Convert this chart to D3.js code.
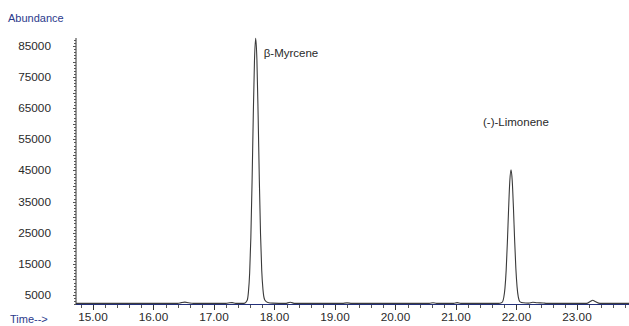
<!DOCTYPE html>
<html>
<head>
<meta charset="utf-8">
<script src="https://cdn.jsdelivr.net/npm/d3@7"></script>
<style>
  html, body { margin: 0; padding: 0; background: #fff; }
  svg { display: block; }
  text { font-family: "Liberation Sans", Arial, sans-serif; }
</style>
</head>
<body>
<svg id="chart" width="629" height="326"></svg>
<script>
// Total ion chromatogram: retention time (min) vs abundance
const times = [
  14.72, 15.50, 16.40, 16.46, 16.52, 16.58, 16.66, 17.20, 17.26, 17.30, 17.36,
  17.50, 17.55, 17.57, 17.59, 17.61, 17.63, 17.65, 17.67, 17.69, 17.71, 17.73,
  17.75, 17.77, 17.79, 17.81, 17.84, 17.89, 17.97, 18.18, 18.26, 18.34, 19.12,
  19.20, 19.28, 20.56, 20.62, 20.68, 20.96, 21.02, 21.08, 21.70, 21.76, 21.79,
  21.81, 21.83, 21.85, 21.87, 21.89, 21.91, 21.93, 21.95, 21.97, 21.99, 22.01,
  22.03, 22.06, 22.11, 22.20, 22.27, 22.34, 22.44, 22.50, 22.58, 23.16, 23.22,
  23.26, 23.30, 23.38, 23.86
];
const abundance = [
  2300, 2300, 2300, 2550, 2700, 2500, 2300, 2300, 2500, 2550, 2300,
  2300, 3300, 6000, 12000, 23500, 41300, 62500, 80400, 87500, 80600, 63000,
  42000, 24500, 12800, 6800, 3400, 2600, 2400, 2300, 2650, 2300, 2300,
  2480, 2300, 2300, 2520, 2300, 2300, 2560, 2300, 2300, 2600, 4200,
  7200, 13000, 22000, 32600, 41600, 45200, 41700, 33000, 22500, 13500, 7600,
  4400, 2800, 2500, 2400, 2650, 2500, 2450, 2300, 2300, 2300, 2900,
  3300, 2950, 2300, 2300
];

const yTickValues = [5000, 15000, 25000, 35000, 45000, 55000, 65000, 75000, 85000];
const xTickValues = [15, 16, 17, 18, 19, 20, 21, 22, 23];
const peakNames = ["β-Myrcene", "(-)-Limonene"];
const peakTimes = [17.69, 21.91];

const svg = d3.select("#chart");

const x = d3.scaleLinear().domain([14.72, 23.86]).range([76, 629]);
const y = d3.scaleLinear().domain([1787, 87570]).range([305, 38]);

// y axis: labels, minor ticks every 1000, stronger every 5000
const yAxisG = svg.append("g").attr("transform", "translate(76,0)");
yAxisG.append("line")
  .attr("x1", 0).attr("x2", 0).attr("y1", 38).attr("y2", 305)
  .attr("stroke", "#333").attr("stroke-width", 1);
const yMinor = d3.range(2000, 88000, 1000);
yAxisG.selectAll("line.minor").data(yMinor).join("line")
  .attr("class", "minor")
  .attr("x1", d => (d % 5000 === 0 ? -3 : -2)).attr("x2", 0)
  .attr("y1", d => Math.round(y(d)) + 0.5).attr("y2", d => Math.round(y(d)) + 0.5)
  .attr("stroke", "#555").attr("stroke-width", 1);
svg.append("g").selectAll("text").data(yTickValues).join("text")
  .attr("x", 51).attr("y", d => y(d) + 4)
  .attr("text-anchor", "end")
  .attr("font-size", 11.8).attr("fill", "#2a2a2a")
  .text(d => d);

// x axis
const xAxisG = svg.append("g");
xAxisG.selectAll("line.minor").data(d3.range(14.8, 23.85, 0.2)).join("line")
  .attr("class", "minor")
  .attr("x1", d => Math.round(x(d)) + 0.5).attr("x2", d => Math.round(x(d)) + 0.5)
  .attr("y1", 305).attr("y2", 308)
  .attr("stroke", "#555").attr("stroke-width", 1);
xAxisG.selectAll("line.major").data(xTickValues).join("line")
  .attr("class", "major")
  .attr("x1", d => Math.round(x(d)) + 0.5).attr("x2", d => Math.round(x(d)) + 0.5)
  .attr("y1", 305).attr("y2", 310)
  .attr("stroke", "#333").attr("stroke-width", 1);
xAxisG.selectAll("text").data(xTickValues).join("text")
  .attr("x", d => x(d)).attr("y", 321)
  .attr("text-anchor", "middle")
  .attr("font-size", 11.8).attr("fill", "#2a2a2a")
  .text(d => d.toFixed(2));

// chromatogram trace
const line = d3.line()
  .x((d, i) => x(times[i]))
  .y(d => y(d))
  .curve(d3.curveMonotoneX);
svg.append("path")
  .datum(abundance)
  .attr("d", line)
  .attr("fill", "none")
  .attr("stroke", "#3a3a3a")
  .attr("stroke-width", 1.1);

// baseline axis drawn over the trace
svg.append("line")
  .attr("x1", 76).attr("x2", 629).attr("y1", 304.5).attr("y2", 304.5)
  .attr("stroke", "#23307a").attr("stroke-width", 1.2);

// peak names
const labelOffsets = [[8, 57], [-28, 126]];
svg.selectAll("text.peak").data(peakNames).join("text")
  .attr("class", "peak")
  .attr("x", (d, i) => x(peakTimes[i]) + labelOffsets[i][0])
  .attr("y", (d, i) => labelOffsets[i][1])
  .attr("font-size", 11.5).attr("fill", "#2a2a2a")
  .text(d => d);

// axis titles
svg.append("text").attr("x", 8).attr("y", 22)
  .attr("font-size", 11).attr("fill", "#2b3a8c").text("Abundance");
svg.append("text").attr("x", 10).attr("y", 323)
  .attr("font-size", 11).attr("fill", "#2b3a8c").text("Time-->");
</script>
</body>
</html>
